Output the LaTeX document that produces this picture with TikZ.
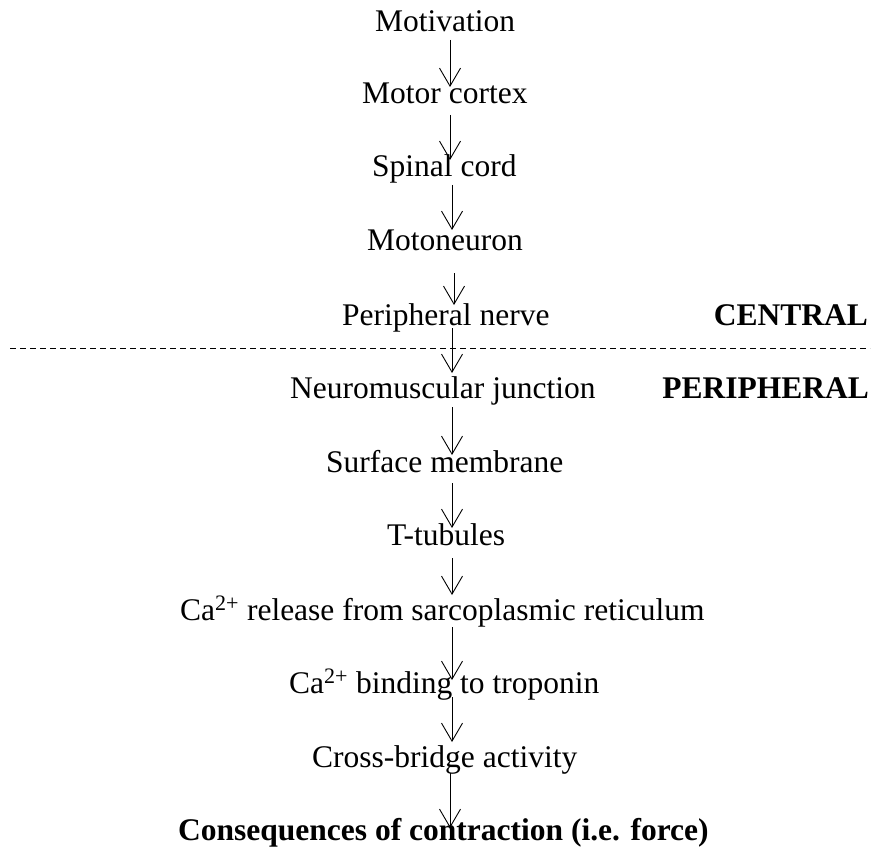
\documentclass[tikz,border=0pt]{standalone}
\usepackage{fontspec}
\setmainfont{Liberation Serif}
\usetikzlibrary{arrows.meta,calc}
\tikzset{stage/.style={inner sep=0pt, anchor=base west, font=\fontsize{31.5}{38}\selectfont}}
\tikzset{region/.style={inner sep=0pt, anchor=base east, font=\fontsize{31.5}{38}\selectfont\bfseries}}
\tikzset{flow/.style={-{Straight Barb[length=18pt,width=21pt]}, line width=0.9pt}}
\newcommand{\Ca}{Ca\textsuperscript{2+}}

\begin{document}
\begin{tikzpicture}[x=1pt,y=-1pt]
	\useasboundingbox (0,0) rectangle (872,850);
	\node[stage] at (375,32)  (motiv)  {Motivation};
	\node[stage] at (362,104) (motor)  {Motor cortex};
	\node[stage] at (372,177) (spinal) {Spinal cord};
	\node[stage] at (367,251) (moton)  {Motoneuron};
	\node[stage] at (342,325) (nerve)  {Peripheral nerve};
	\node[stage] at (290,398) (nmj)    {Neuromuscular junction};
	\node[stage] at (326,472) (memb)   {Surface membrane};
	\node[stage] at (387,545) (ttub)   {T-tubules};
	\node[stage] at (180,620) (carel)  {\Ca{} release from sarcoplasmic reticulum};
	\node[stage] at (289,693) (cabind) {\Ca{} binding to troponin};
	\node[stage] at (312,767) (xbridge){Cross-bridge activity};
	\node[stage, font=\fontsize{31.5}{38}\selectfont\bfseries] at (178,840) (force) {Consequences of contraction (i.e. force)};
	\node[region] at (868,325) (central) {CENTRAL};
	\node[region] at (869,398) (periph)  {PERIPHERAL};
	% boundary between central and peripheral
	\coordinate (bl) at (10,348);
	\coordinate (br) at (870,348);
	\draw[line width=0.9pt, dash pattern=on 6pt off 4pt] (bl) -- (br);
	% chain of arrows: from / to / gap below / overlap above / column
	\foreach \a/\b/\s/\t/\x in {motiv/motor/8/17/450, motor/spinal/11/17/450,
		spinal/moton/8/21/452, moton/nerve/22/20/454, nerve/nmj/3/25/452,
		nmj/memb/9/17/452, memb/ttub/11/17/452, ttub/carel/13/25/452,
		carel/cabind/7/13/452, cabind/xbridge/4/25/452, xbridge/force/6/12/450}
		\draw[flow] ($(\a.base -| 0,0)+(\x,\s)$) -- ($(\b.base -| 0,0)+(\x,-\t)$);
\end{tikzpicture}
\end{document}
